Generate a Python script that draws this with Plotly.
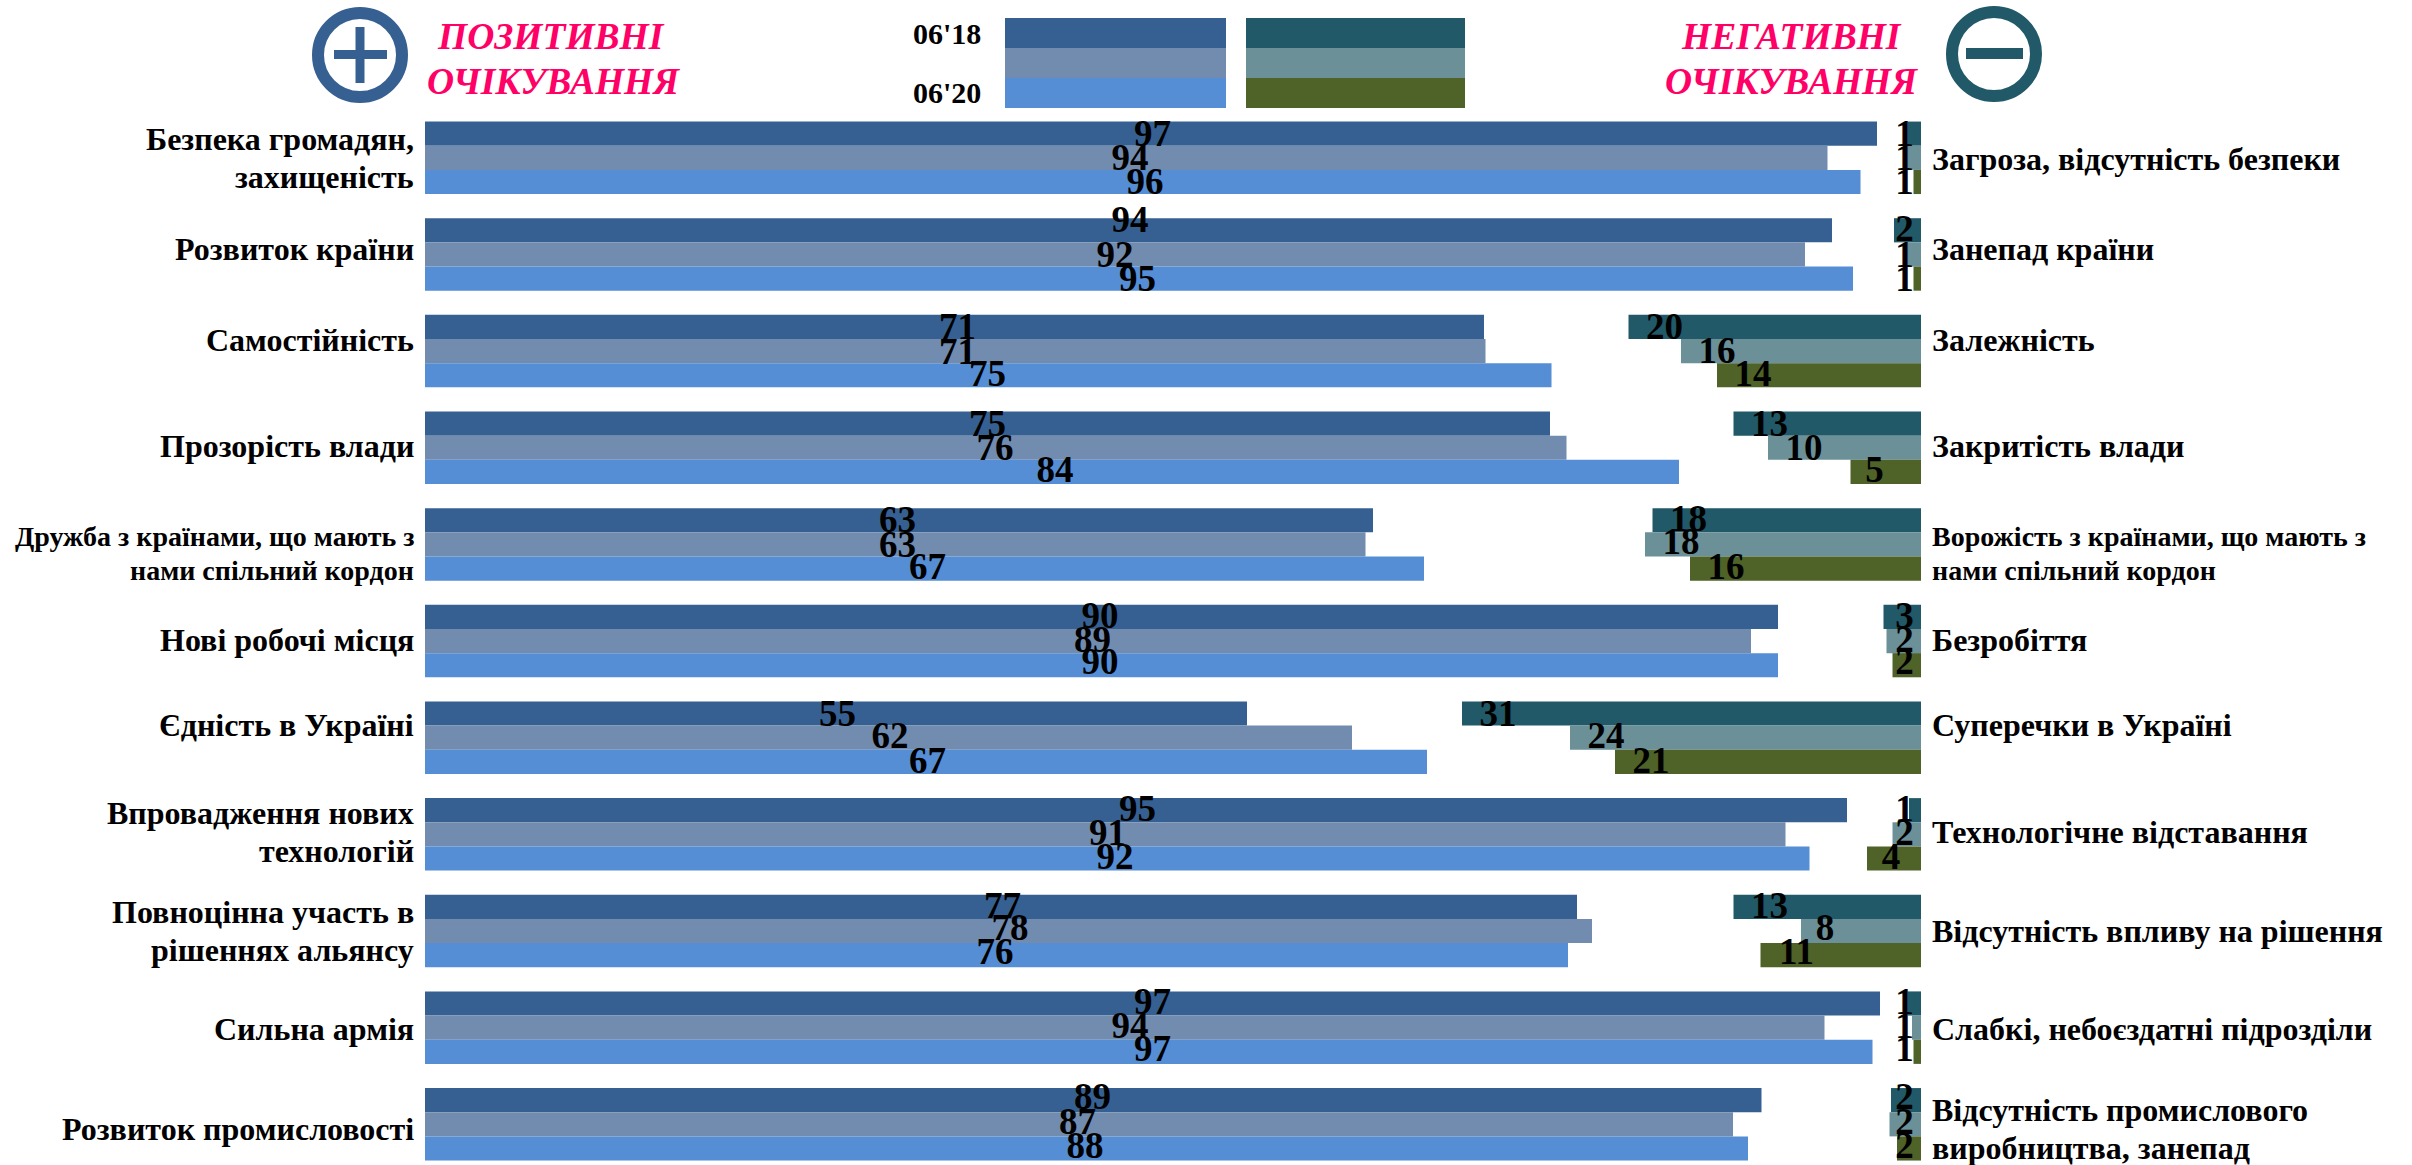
import plotly.graph_objects as go

left_labels = ["Безпека громадян,<br>захищеність", "Розвиток країни", "Самостійність", "Прозорість влади",
    "Дружба з країнами, що мають з<br>нами спільний кордон", "Нові робочі місця", "Єдність в Україні",
    "Впровадження нових<br>технологій", "Повноцінна участь в<br>рішеннях альянсу", "Сильна армія", "Розвиток промисловості"]
right_labels = ["Загроза, відсутність безпеки", "Занепад країни", "Залежність", "Закритість влади",
    "Ворожість з країнами, що мають з<br>нами спільний кордон", "Безробіття", "Суперечки в Україні",
    "Технологічне відставання", "Відсутність впливу на рішення", "Слабкі, небоєздатні підрозділи",
    "Відсутність промислового<br>виробництва, занепад"]

pos_18 = [96.8, 93.8, 70.6, 75.0, 63.2, 90.2, 54.8, 94.8, 76.8, 97.0, 89.1]
pos_mid = [93.5, 92.0, 70.7, 76.1, 62.7, 88.4, 61.8, 90.7, 77.8, 93.3, 87.2]
pos_20 = [95.7, 95.2, 75.1, 83.6, 66.6, 90.2, 66.8, 92.3, 76.2, 96.5, 88.2]
neg_18 = [0.9, 1.8, 19.5, 12.5, 17.9, 2.5, 30.6, 0.8, 12.5, 0.9, 2.0]
neg_mid = [0.9, 0.9, 16.0, 10.2, 18.4, 2.3, 23.4, 1.9, 8.0, 0.6, 2.1]
neg_20 = [0.5, 0.5, 13.6, 4.7, 15.4, 1.9, 20.4, 3.6, 10.7, 0.5, 1.6]

pos_lab = [[97, 94, 71, 75, 63, 90, 55, 95, 77, 97, 89],
           [94, 92, 71, 76, 63, 89, 62, 91, 78, 94, 87],
           [96, 95, 75, 84, 67, 90, 67, 92, 76, 97, 88]]
neg_lab = [[1, 2, 20, 13, 18, 3, 31, 1, 13, 1, 2],
           [1, 1, 16, 10, 18, 2, 24, 2, 8, 1, 2],
           [1, 1, 14, 5, 16, 2, 21, 4, 11, 1, 2]]

W, H = 2412, 1165
X0, X1 = 425, 1921
UNIT = 15.0
ROW0, PITCH = 157.8, 96.65
FONT = "Liberation Serif"
pos_colors = ["#376092", "#728CB0", "#558ED5"]
neg_colors = ["#215968", "#6B9098", "#4F6228"]

# layout only: label centres (px) and small vertical label shifts (px)
label_y_px = [158.5, 249.5, 340, 446, 553.5, 639.5, 724.5, 831.5, 930.5, 1029, 1129]
pos_shift = [[3, -8, 3, 3, 3, 1.5, 3, 1.5, 1.5, 1.5, 0],
             [3, 3, 4, 3, 3, 1.5, 1.5, 1.5, 0, 1.5, 0],
             [3, 3, 1, 1, 1, 0, 1.5, 1.5, 0, 0, 0]]
neg_shift = [[3, 1, 3, 3, 2, 1.5, 3, 1.5, 1.5, 1.5, 0],
             [3, 3, 3, 3, 0, 1.5, 1.5, 1.5, 0, 1.5, 0],
             [3, 3, 1, 1, 1, 0, 1.5, 1.5, 0, 0, 0]]

fig = go.Figure()
rows = list(range(len(left_labels)))
negs = [neg_18, neg_mid, neg_20]
for s, (vals, col) in enumerate(zip([pos_18, pos_mid, pos_20], pos_colors)):
    fig.add_bar(x=vals, y=[r + (s - 1) * 0.25 for r in rows], width=0.25, orientation="h",
                marker=dict(color=col, line_width=0), xaxis="x", yaxis="y", showlegend=False)
for s, (vals, col) in enumerate(zip(negs, neg_colors)):
    fig.add_bar(x=vals, y=[r + (s - 1) * 0.25 for r in rows], width=0.25, orientation="h",
                marker=dict(color=col, line_width=0), xaxis="x2", yaxis="y2", showlegend=False)
numfont = dict(family=FONT, size=37, color="black", weight="bold")
for s in range(3):
    fig.add_scatter(x=[v / 2 for v in pos_lab[s]],
                    y=[r + (s - 1) * 0.25 + pos_shift[s][r] / PITCH for r in rows], mode="text",
                    text=[str(v) for v in pos_lab[s]], textposition="middle center", textfont=numfont,
                    xaxis="x", yaxis="y", showlegend=False)
    fig.add_scatter(x=[max(b - (2.4 if v >= 10 else 1.6), 1.1) for b, v in zip(negs[s], neg_lab[s])],
                    y=[r + (s - 1) * 0.25 + neg_shift[s][r] / PITCH for r in rows], mode="text",
                    text=[str(v) for v in neg_lab[s]], textposition="middle center", textfont=numfont,
                    xaxis="x2", yaxis="y2", showlegend=False)

xr = (X1 - X0) / UNIT
yr = [(H - ROW0) / PITCH, -ROW0 / PITCH]
dom = [X0 / W, X1 / W]
fig.update_layout(
    width=W, height=H, margin=dict(l=0, r=0, t=0, b=0), paper_bgcolor="white", plot_bgcolor="white",
    barmode="overlay", showlegend=False,
    xaxis=dict(domain=dom, range=[0, xr], visible=False, fixedrange=True),
    xaxis2=dict(domain=dom, range=[xr, 0], visible=False, overlaying="x", fixedrange=True),
    yaxis=dict(domain=[0, 1], range=yr, visible=False, anchor="x"),
    yaxis2=dict(domain=[0, 1], range=yr, visible=False, overlaying="y", side="right", anchor="x2"),
)

def px(x): return x / W
def py(y): return 1 - y / H

def rect(x0, y0, x1, y1, col):
    fig.add_shape(type="rect", xref="paper", yref="paper", x0=px(x0), x1=px(x1), y0=py(y0), y1=py(y1),
                  fillcolor=col, line_width=0, layer="above")

for (t, b), pc, nc in zip([(18, 48), (48, 78), (78, 108)], pos_colors, neg_colors):
    rect(1005, t, 1226, b, pc)
    rect(1246, t, 1465, b, nc)

def ring(cx, cy, col):
    fig.add_shape(type="circle", xref="paper", yref="paper", x0=px(cx - 42), x1=px(cx + 42),
                  y0=py(cy + 42), y1=py(cy - 42), line=dict(color=col, width=12), fillcolor="white")

ring(360, 55, "#376092")
rect(334, 50, 387, 59, "#376092")
rect(355.5, 27, 364.5, 83, "#376092")
ring(1994, 54, "#215968")
rect(1966, 48, 2023, 59, "#215968")

def txt(s, x, y, size, color="black", style="normal", anchor="center"):
    fig.add_annotation(text=s, xref="paper", yref="paper", x=px(x), y=py(y), showarrow=False,
                       xanchor=anchor, yanchor="middle", borderpad=0,
                       font=dict(family=FONT, size=size, color=color, weight="bold", style=style))

def row_label(label, x, y, anchor, size):
    lines = label.split("<br>")
    gap = 34 if size < 30 else 38
    for k, line in enumerate(lines):
        txt(line, x, y + (k - (len(lines) - 1) / 2) * gap, size, anchor=anchor)

for r in rows:
    size = 28 if r == 4 else 32
    row_label(left_labels[r], 415, label_y_px[r], "right", size)
    row_label(right_labels[r], 1931, label_y_px[r], "left", size)

PINK = "#FF0066"
txt("ПОЗИТИВНІ", 551, 37, 37.5, PINK, "italic")
txt("ОЧІКУВАННЯ", 553, 82, 37.5, PINK, "italic")
txt("НЕГАТИВНІ", 1791, 37, 37.5, PINK, "italic")
txt("ОЧІКУВАННЯ", 1792, 82, 37.5, PINK, "italic")
txt("06'18", 947, 34, 30)
txt("06'20", 947, 93, 30)

fig.write_html("out.html", config=dict(displayModeBar=False), post_script="document.body.style.margin='0';")
